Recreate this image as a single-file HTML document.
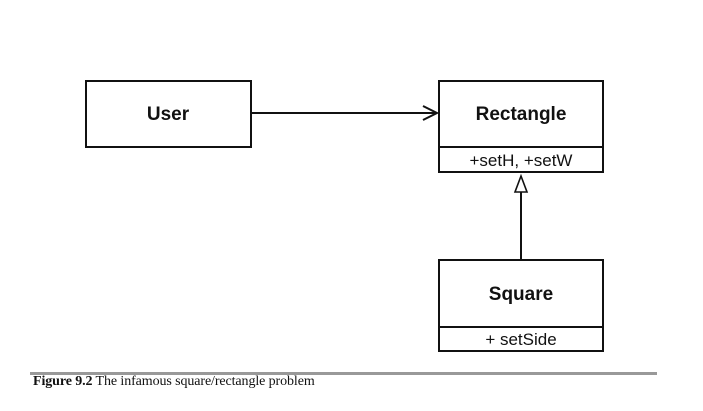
<!DOCTYPE html>
<html><head><meta charset="utf-8"><style>
body{margin:0;background:#fff;width:703px;height:411px;overflow:hidden;position:relative}
svg{position:absolute;left:0;top:0}
.cap{position:absolute;left:33px;top:374px;font-family:"Liberation Serif",serif;font-size:14px;color:#111;white-space:nowrap;letter-spacing:-0.1px}
</style></head><body>
<svg width="703" height="411" viewBox="0 0 703 411">
<g fill="#fff" stroke="#111" stroke-width="2">
<rect x="86" y="81" width="165" height="66"/>
<rect x="439" y="81" width="164" height="91"/>
<line x1="439" y1="147" x2="603" y2="147"/>
<rect x="439" y="260" width="164" height="91"/>
<line x1="439" y1="327" x2="603" y2="327"/>
<line x1="251" y1="113" x2="437" y2="113"/>
<polyline points="423,106 437,113 423,120" fill="none"/>
<line x1="521" y1="192" x2="521" y2="260"/>
<polygon points="521,176 515,192 527,192" stroke-width="1.6"/>
</g>
<g font-family="Liberation Sans,sans-serif" fill="#111" text-anchor="middle">
<text x="168" y="120" font-size="19" font-weight="bold">User</text>
<text x="521" y="120" font-size="19" font-weight="bold">Rectangle</text>
<text x="521" y="166" font-size="17">+setH, +setW</text>
<text x="521" y="300" font-size="19" font-weight="bold">Square</text>
<text x="521" y="345" font-size="17">+ setSide</text>
</g>
<rect x="30" y="372" width="627" height="3" fill="#999"/>
</svg>
<div class="cap"><b>Figure 9.2</b> The infamous square/rectangle problem</div>
</body></html>
